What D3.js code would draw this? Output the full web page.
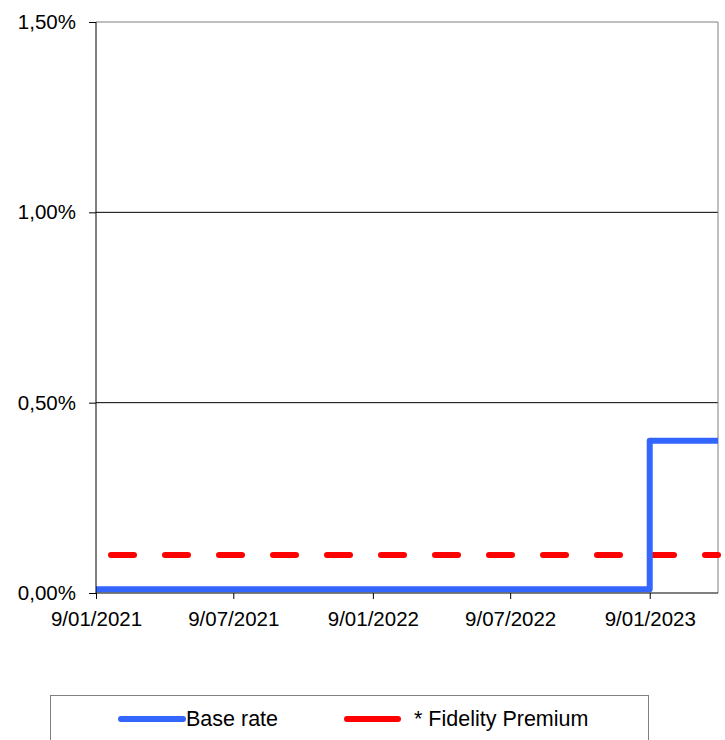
<!DOCTYPE html>
<html>
<head>
<meta charset="utf-8">
<script src="https://cdn.jsdelivr.net/npm/d3@7"></script>
<style>
  body { margin: 0; background: #fff; }
  svg { font-family: "Liberation Sans", Arial, sans-serif; }
</style>
</head>
<body>
<div id="chart"></div>
<script>
// data (rates in %)
const baseDates = ["2021-01-09", "2023-01-09", "2023-01-09", "2023-04-09"];
const baseValues = [0.01, 0.01, 0.40, 0.40];
const premiumDates = ["2021-01-09", "2023-04-09"];
const premiumValues = [0.10, 0.10];
const xTicks = ["2021-01-09", "2021-07-09", "2022-01-09", "2022-07-09", "2023-01-09"];
const yTicks = [0, 0.5, 1.0, 1.5];
const legendLabels = ["Base rate", "* Fidelity Premium"];

const parse = d3.timeParse("%Y-%m-%d");
const fmtDate = d3.timeFormat("%-d/%m/%Y");

const W = 725, H = 740;
const margin = { top: 22, right: 7, bottom: 147, left: 96 };
const width = W - margin.left - margin.right;
const height = H - margin.top - margin.bottom;
const FS = 20.5;

const svg = d3.select("#chart").append("svg")
  .attr("width", W).attr("height", H);
const g = svg.append("g").attr("transform", `translate(${margin.left},${margin.top})`);

const x = d3.scaleTime()
  .domain([parse("2021-01-09"), parse("2023-04-09")])
  .range([0, width]);
const y = d3.scaleLinear().domain([0, 1.5]).range([height, 0]);

// gridlines
g.selectAll(".grid").data(yTicks.filter(d => d > 0)).enter()
  .append("line")
  .attr("x1", 0).attr("x2", width)
  .attr("y1", d => y(d)).attr("y2", d => y(d))
  .attr("stroke", d => d === 1.5 ? "#808080" : "#000")
  .attr("stroke-width", 1);

// right border
g.append("line")
  .attr("x1", width).attr("x2", width)
  .attr("y1", 0).attr("y2", height)
  .attr("stroke", "#808080");

// lines
const line = d3.line().x(d => x(d[0])).y(d => y(d[1]));

g.append("path")
  .datum(premiumDates.map((d, i) => [parse(d), premiumValues[i]]))
  .attr("d", line)
  .attr("fill", "none")
  .attr("stroke", "#ff0000")
  .attr("stroke-width", 6)
  .attr("stroke-linecap", "round")
  .attr("stroke-dasharray", "23,31")
  .attr("stroke-dashoffset", -15);

g.append("path")
  .datum(baseDates.map((d, i) => [parse(d), baseValues[i]]))
  .attr("d", line)
  .attr("fill", "none")
  .attr("stroke", "#3366ff")
  .attr("stroke-width", 6)
  .attr("stroke-linejoin", "round");

// axes
const yAxis = g.append("g")
  .call(d3.axisLeft(y).tickValues(yTicks).tickSize(7)
    .tickFormat(d => d3.format(".2f")(d).replace(".", ",") + "%"));
yAxis.select(".domain").attr("stroke", "#000").attr("d", `M0,0V${height}`);
yAxis.selectAll("text").attr("font-size", FS).attr("fill", "#000").attr("x", -20).attr("font-family", "Liberation Sans, Arial, sans-serif");

const xAxis = g.append("g")
  .attr("transform", `translate(0,${height})`)
  .call(d3.axisBottom(x).tickValues(xTicks.map(parse)).tickSize(6).tickFormat(fmtDate));
xAxis.select(".domain").attr("stroke", "#000").attr("d", `M0,0H${width}`);
xAxis.selectAll("text").attr("font-size", FS).attr("fill", "#000").attr("y", 14).attr("dy", "0.95em").attr("font-family", "Liberation Sans, Arial, sans-serif");

// legend
const lg = svg.append("g");
lg.append("rect")
  .attr("x", 50.5).attr("y", 695.5).attr("width", 598).attr("height", 60)
  .attr("fill", "#fff").attr("stroke", "#808080");
const items = [
  { x1: 121, x2: 183, tx: 186, color: "#3366ff", label: legendLabels[0] },
  { x1: 347, x2: 398, tx: 414, color: "#ff0000", label: legendLabels[1] }
];
items.forEach(it => {
  lg.append("line")
    .attr("x1", it.x1).attr("x2", it.x2).attr("y1", 719).attr("y2", 719)
    .attr("stroke", it.color).attr("stroke-width", 6).attr("stroke-linecap", "round");
  lg.append("text")
    .attr("x", it.tx).attr("y", 726)
    .attr("font-size", 21.5).attr("fill", "#000")
    .text(it.label);
});
</script>
</body>
</html>
